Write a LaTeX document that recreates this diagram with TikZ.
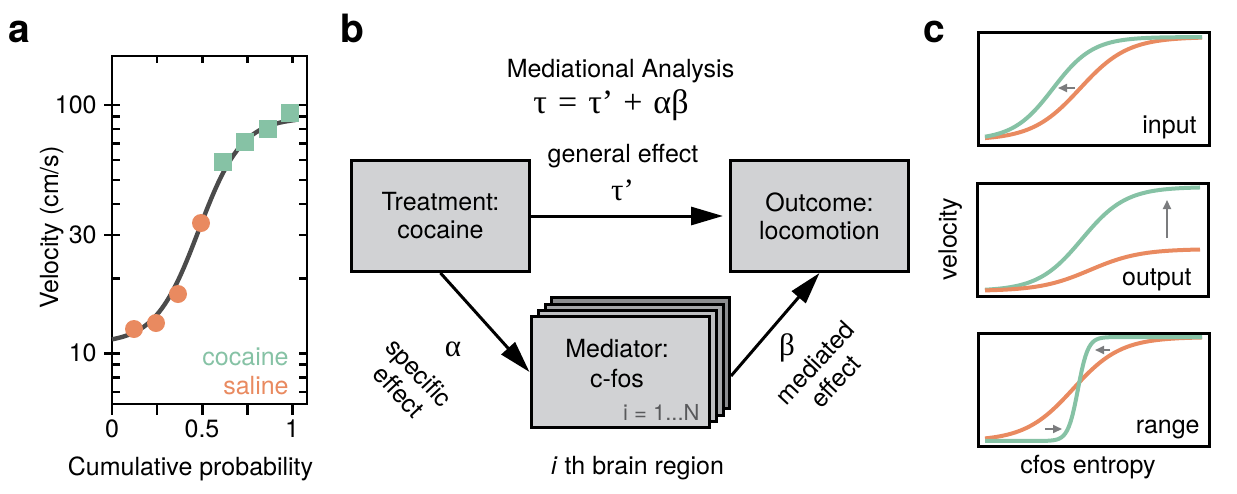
\documentclass[tikz,border=0pt]{standalone}
\usepackage{fontspec}
\setmainfont{TeX Gyre Heros}
\newfontfamily\greekserif{Liberation Serif}
\usetikzlibrary{arrows.meta}

\definecolor{boxgray}{HTML}{D1D2D4}
\definecolor{stackgrayA}{HTML}{BDBEC0}
\definecolor{stackgrayB}{HTML}{A6A7A9}
\definecolor{stackgrayC}{HTML}{8C8D8F}
\definecolor{cocgreen}{HTML}{86C2A5}
\definecolor{salorange}{HTML}{E98A60}
\definecolor{fitgray}{HTML}{4B4B4B}
\definecolor{shiftgray}{HTML}{7B7C7E}
\definecolor{labelgray}{HTML}{58595B}

\tikzset{
  every node/.style={font=\fontsize{12.5}{14}\selectfont},
  panel/.style={font=\fontsize{19.5}{22}\selectfont\bfseries, anchor=base west, inner sep=0pt},
  greek/.style={font=\fontsize{15.5}{17}\selectfont\greekserif},
  varbox/.style={draw, line width=1.5pt, fill=boxgray, minimum width=89pt, minimum height=55.5pt, align=center, inner sep=0pt},
  effect/.style={-{Triangle[length=16pt,width=9pt]}, line width=1.5pt},
  shiftarrow/.style={-{Triangle[length=4.5pt,width=4pt]}, line width=0.9pt, shiftgray},
  plotframe/.style={line width=1.5pt},
  axisline/.style={line width=1.25pt},
  fitline/.style={line width=2.2pt, fitgray},
  curve/.style={line width=2pt},
  saldot/.style={circle, fill=salorange, minimum size=9pt, inner sep=0pt},
  cocsq/.style={rectangle, fill=cocgreen, minimum size=9pt, inner sep=0pt},
  ticklabel/.style={inner sep=0pt},
  declare function={sig(\t,\c,\s)=1/(1+exp(-max(-9,min(9,(\t-\c)/\s))));}
}

\begin{document}
\begin{tikzpicture}[x=0.5pt, y=-0.5pt]
\useasboundingbox (0,0) rectangle (1237,493);

\node(la) at (8,42) [panel] {a};
\node(lb) at (340,42) [panel] {b};
\node(lc) at (923,42) [panel] {c};

\draw[axisline] (112,56) rectangle (307,404);
\foreach \v in {7,8,9,20,40,50,60,70,80,90}
  \draw[axisline] (112,{353.3-248.3*(log10(\v)-1)}) -- ++(8,0);
\foreach \v in {10,30,100}
  \draw[axisline] (104,{353.3-248.3*(log10(\v)-1)}) -- ++(16,0);
\foreach \v in {7,8,9,10,20,30,40,50,60,70,80,90,100}
  \draw[axisline] (307,{353.3-248.3*(log10(\v)-1)}) -- ++(-8,0);
\foreach \u in {0.25,0.5,0.75,1}
  \draw[axisline] ({112+180.6*\u},56) -- ++(0,7);
\foreach \u in {0,0.25,0.5,0.75,1}
  \draw[axisline] ({112+180.6*\u},404) -- ++(0,11);

\node(y100) at (97,105) [ticklabel, anchor=east] {100};
\node(y30) at (97,235) [ticklabel, anchor=east] {30};
\node(y10) at (97,353) [ticklabel, anchor=east] {10};
\node(x0) at (112,437) [ticklabel, anchor=base] {0};
\node(x05) at (202,437) [ticklabel, anchor=base] {0.5};
\node(x1) at (292,437) [ticklabel, anchor=base] {1};

\node(xlab) at (190.5,475) [anchor=base] {Cumulative probability};
\node(ylab) at (58,227.5) [anchor=base, rotate=90] {Velocity (cm/s)};

\draw[fitline] plot[domain=0:1.02, samples=60] ({112+180.6*\x}, {353.3-248.3*(0.04+0.91*sig(\x,0.48,0.12))});

\foreach \px/\py [count=\i] in {134/329, 156/323, 178/294, 201/223}
  \node(sal\i) at (\px,\py) [saldot] {};
\foreach \px/\py [count=\i] in {223/162, 245/142, 268/129, 290/113}
  \node(coc\i) at (\px,\py) [cocsq] {};

\node(lcoc) at (289,365) [ticklabel, anchor=base east, text=cocgreen] {cocaine};
\node(lsal) at (289,394) [ticklabel, anchor=base east, text=salorange] {saline};

\node(title) at (620.5,77) [anchor=base] {Mediational Analysis};
\node(eq) at (611,113) [anchor=base, greek, font=\fontsize{17}{19}\selectfont\greekserif] {τ\hspace{5.5pt}=\hspace{5.5pt}τ’\hspace{5pt}+\hspace{5.5pt}αβ};

\node(treat) at (440.5,216) [varbox] {Treatment:\\cocaine};
\node(out) at (819.5,216) [varbox] {Outcome:\\locomotion};

\foreach \k/\dx/\dy/\c in {3/20/-19/stackgrayC, 2/14/-12/stackgrayB, 1/7/-6/stackgrayA}
  \node(med\k) at ({620+\dx},{372+\dy}) [varbox, fill=\c] {};
\node(med) at (620,372) [varbox] {};
\node(medtxt) at (617,364) [align=center, font=\fontsize{12.5}{15}\selectfont] {Mediator:\\c-fos};
\node(nreg) at (700,420) [ticklabel, anchor=base east, text=labelgray, font=\fontsize{11}{13}\selectfont] {i = 1...N};

\draw[effect, shorten >=3pt] (treat) to (out);
\draw[effect] (treat.south) to (med.west);
\coordinate(bstart) at (731,376);
\draw[effect] (bstart) to (out.south);

\node(gen) at (623,162) [anchor=base] {general effect};
\node(taup) at (622.5,200) [anchor=base, greek] {τ’};
\node(alpha) at (453,349) [greek] {α};
\node(beta) at (787,348) [greek] {β};
\node(spec) at (409,382) [rotate=-47, align=center] {specific\\effect};
\node(mede) at (825,372) [rotate=47, align=center] {mediated\\effect};
\node(region) at (637.5,474) [anchor=base] {\textit{i} th brain region};

\draw[plotframe] (978,32) rectangle (1209,145);
\draw[plotframe] (977,183) rectangle (1208,296);
\draw[plotframe] (978,333) rectangle (1209,446);

\draw[curve, salorange] plot[domain=985:1202, samples=80] (\x, {140-103*sig(\x,1080,24)});
\draw[curve, cocgreen] plot[domain=985:1202, samples=80] (\x, {140-103*sig(\x,1053,20)});
\draw[curve, cocgreen] plot[domain=985:1200, samples=80] (\x, {291-104*sig(\x,1082,22)});
\draw[curve, salorange] plot[domain=985:1200, samples=80] (\x, {291-42*sig(\x,1090,25)});
\draw[curve, salorange] plot[domain=985:1202, samples=80] (\x, {441-104*sig(\x,1073,24)});
\draw[curve, cocgreen] plot[domain=985:1202, samples=120] (\x, {441-104*sig(\x,1078,5)});

\foreach \n/\ax/\ay/\bx/\by in {a/1075/88/1058/88, b/1167/238/1167/200, c/1110/350/1095/350, d/1045/429/1062/429} {
  \coordinate(from\n) at (\ax,\ay);
  \coordinate(to\n) at (\bx,\by);
  \draw[shiftarrow] (from\n) -- (to\n);
}

\node(linput) at (1197,133) [ticklabel, anchor=base east] {input};
\node(loutput) at (1192,285) [ticklabel, anchor=base east] {output};
\node(lrange) at (1200,433) [ticklabel, anchor=base east] {range};
\node(lvel) at (956.5,239) [anchor=base, rotate=90] {velocity};
\node(lcfos) at (1088,473) [anchor=base] {cfos entropy};

\end{tikzpicture}
\end{document}
